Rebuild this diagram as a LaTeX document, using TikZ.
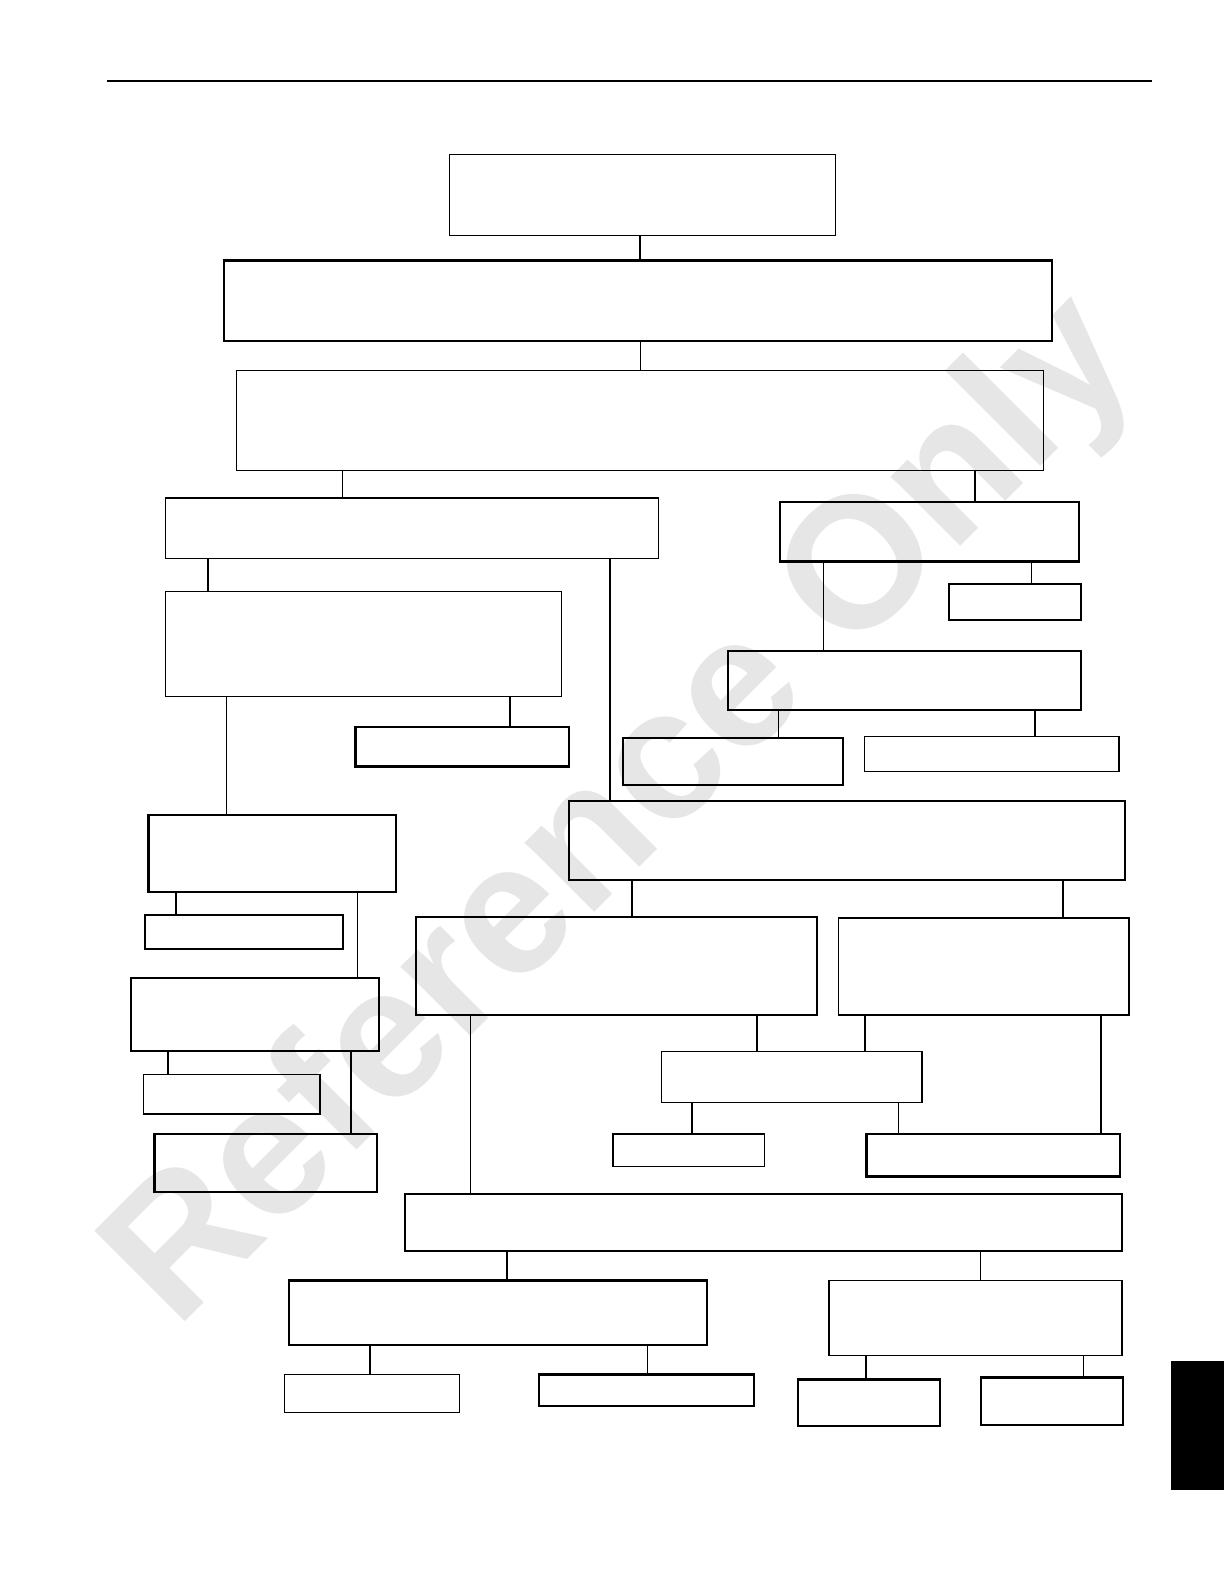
\documentclass[tikz,border=0pt]{standalone}
\usepackage{fontspec}
\newfontfamily\wmfont{Liberation Sans}
\usetikzlibrary{fit}
\definecolor{wmgray}{HTML}{E6E6E6}
\tikzset{
  box/.style={draw=black, line width=1.3pt, inner sep=0pt},
  heavy/.style={box, line width=2.1pt},
  link/.style={draw=black, line width=1.1pt},
  heavylink/.style={draw=black, line width=2pt},
  rule/.style={draw=black, line width=2pt},
  watermark/.style={wmgray, rotate=45, inner sep=0pt,
    font=\wmfont\bfseries\fontsize{186}{186}\selectfont}
}
\begin{document}
\begin{tikzpicture}[x=1.0099pt, y=-1.0099pt]
  \useasboundingbox (0,0) rectangle (1212,1568.5);
  % watermark
  \node[watermark] (wm) at (619,806) {Reference Only};
  % header rule and tab
  \draw[rule] (106,80) -- (1141,80);
  \fill[black] (1160,1348) rectangle (1212,1475);
  % boxes
  \node[box,   fit={(445,153) (827,233)}]   (B1) {};
  \node[heavy, fit={(222,258) (1042,338)}]  (B2) {};
  \node[box,   fit={(234,367) (1033,466)}]  (B3) {};
  \node[box,   fit={(164,493) (652,553)}]   (B4) {};
  \node[heavy, fit={(772,497) (1068,556)}]  (B5) {};
  \node[heavy, fit={(940,578) (1070,614)}]  (B6) {};
  \node[box,   fit={(164,586) (556,690)}]   (B7) {};
  \node[heavy, fit={(721,645) (1070,703)}]  (B8) {};
  \node[heavy, fit={(352,720) (563,759)}]   (B9) {};
  \node[heavy, fit={(617,731) (835,777)}]   (B10) {};
  \node[box,   fit={(856,729) (1108,764)}]  (B11) {};
  \node[heavy, fit={(147,807) (392,883)}]   (B12) {};
  \node[heavy, fit={(144,906) (340,940)}]   (B13) {};
  \node[heavy, fit={(563,793) (1114,871)}]  (B14) {};
  \node[heavy, fit={(130,968) (375,1041)}]  (B15) {};
  \node[heavy, fit={(412,908) (809,1005)}]  (B16) {};
  \node[box,   fit={(830,909) (1118,1005)}] (B17) {};
  \node[box,   fit={(142,1064) (317,1103)}] (B18) {};
  \node[box,   fit={(655,1041) (913,1092)}] (B19) {};
  \node[heavy, fit={(153,1123) (373,1180)}] (B20) {};
  \node[box,   fit={(607,1123) (757,1155)}] (B21) {};
  \node[heavy, fit={(858,1123) (1109,1165)}] (B22) {};
  \node[heavy, fit={(401,1182) (1111,1239)}] (B23) {};
  \node[heavy, fit={(286,1268) (700,1332)}] (B24) {};
  \node[box,   fit={(821,1268) (1111,1342)}] (B25) {};
  \node[box,   fit={(282,1361) (455,1399)}] (B26) {};
  \node[heavy, fit={(534,1361) (747,1392)}] (B27) {};
  \node[heavy, fit={(790,1366) (931,1412)}] (B28) {};
  \node[heavy, fit={(971,1364) (1112,1411)}] (B29) {};
  % connectors
  \foreach \a/\b/\x in {B2/B3/634, B3/B4/339, B4/B7/206, B5/B8/815,
      B5/B6/1021, B7/B12/224, B8/B10/771, B12/B15/354, B16/B23/466,
      B19/B22/890, B23/B25/971, B24/B27/641, B25/B29/1073}
    \draw[link] (\x,0 |- \a.south) -- (\x,0 |- \b.north);
  \foreach \a/\b/\x in {B1/B2/634, B3/B5/965, B4/B14/604, B7/B9/505,
      B8/B11/1025, B12/B13/174, B14/B16/626, B14/B17/1053, B15/B18/166,
      B15/B20/348, B16/B19/750, B17/B19/857, B17/B22/1090, B19/B21/685,
      B23/B24/502, B24/B26/366, B25/B28/858}
    \draw[heavylink] (\x,0 |- \a.south) -- (\x,0 |- \b.north);
\end{tikzpicture}
\end{document}
